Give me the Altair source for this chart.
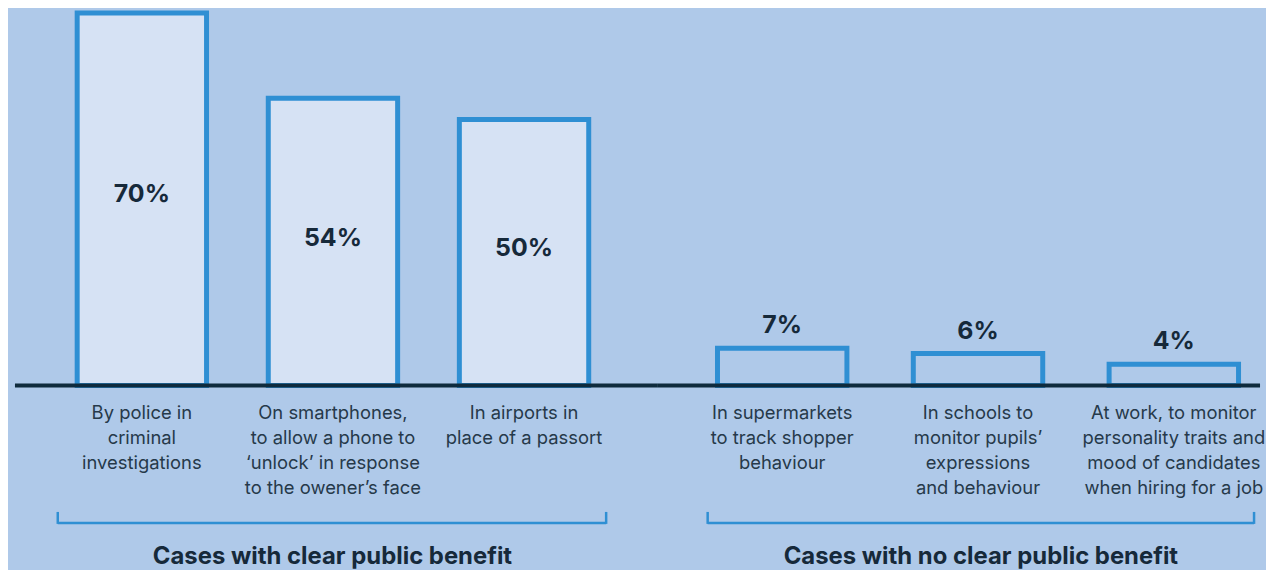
import altair as alt
import pandas as pd

# ---- data ----
cats1 = [
    "By police in\ncriminal\ninvestigations",
    "On smartphones,\nto allow a phone to\n‘unlock’ in response\nto the owener’s face",
    "In airports in\nplace of a passort",
]
vals1 = [70, 54, 50]
cats2 = [
    "In supermarkets\nto track shopper\nbehaviour",
    "In schools to\nmonitor pupils’\nexpressions\nand behaviour",
    "At work, to monitor\npersonality traits and\nmood of candidates\nwhen hiring for a job",
]
vals2 = [7, 6, 4]
groups = ["Cases with clear public benefit", "Cases with no clear public benefit"]

# ---- style ----
BG = "#afc9e9"
FILL = "#d6e2f4"
STROKE = "#2f8fd3"
DARK = "#0f2b3d"
TEXT = "#16293a"
LABEL = "#26394a"
FONT = "Inter"
H = 378
YMAX = 70.7


def panel(cats, vals, group, width, pi, po, align, fill, inside, base_x0, br_x0, br_x1, title_x):
    df = pd.DataFrame({"cat": cats, "val": vals, "label": [f"{v}%" for v in vals]})
    x = alt.X("cat:N", sort=cats, axis=None,
              scale=alt.Scale(paddingInner=pi, paddingOuter=po, align=align, round=False))
    y = alt.Y("val:Q", axis=None, scale=alt.Scale(domain=[0, YMAX], nice=False, zero=True))
    base = alt.Chart(df)
    bars = base.mark_bar(fill=fill, stroke=STROKE, strokeWidth=5, strokeJoin="miter").encode(x=x, y=y)
    if inside:
        vlab = base.transform_calculate(mid="datum.val*0.515").mark_text(
            font=FONT, fontSize=25, fontWeight="bold", color=TEXT, baseline="middle"
        ).encode(x=x, y=alt.Y("mid:Q", axis=None), text="label:N")
    else:
        vlab = base.mark_text(
            font=FONT, fontSize=25, fontWeight="bold", color=TEXT, baseline="alphabetic", dy=-15
        ).encode(x=x, y=y, text="label:N")
    clab = base.mark_text(
        font=FONT, fontSize=18.5, color=LABEL, baseline="top", lineBreak="\n", lineHeight=25
    ).encode(x=x, y=alt.value(H + 19), text="cat:N")

    g = alt.Chart(pd.DataFrame({"g": [group]}))
    baseline = g.mark_rule(color=DARK, strokeWidth=4).encode(
        x=alt.value(base_x0), x2=alt.value(width), y=alt.value(H))
    br = g.mark_rule(color=STROKE, strokeWidth=2.5).encode(
        x=alt.value(br_x0), x2=alt.value(br_x1), y=alt.value(H + 138))
    t1 = g.mark_rule(color=STROKE, strokeWidth=2.5).encode(
        x=alt.value(br_x0), y=alt.value(H + 127), y2=alt.value(H + 139))
    t2 = g.mark_rule(color=STROKE, strokeWidth=2.5).encode(
        x=alt.value(br_x1), y=alt.value(H + 127), y2=alt.value(H + 139))
    title = g.mark_text(
        font=FONT, fontSize=24, fontWeight="bold", color=TEXT, baseline="middle", align="center"
    ).encode(x=alt.value(title_x), y=alt.value(H + 172), text="g:N")

    return alt.layer(bars, baseline, vlab, clab, br, t1, t2, title).properties(width=width, height=H)


p1 = panel(cats1, vals1, groups[0], 653, 0.323, 0.362, 0.5, FILL, True, 7, 50, 601, 326)
p2 = panel(cats2, vals2, groups[1], 605, 0.339, 0.207, 0.735, BG, False, 0, 50, 599, 324.5)

chart = alt.hconcat(p1, p2, spacing=0, bounds="flush").properties(
    padding=0, background=BG
).configure_view(stroke=None)

chart.save("out.html", embed_options={"renderer": "svg", "actions": False})
